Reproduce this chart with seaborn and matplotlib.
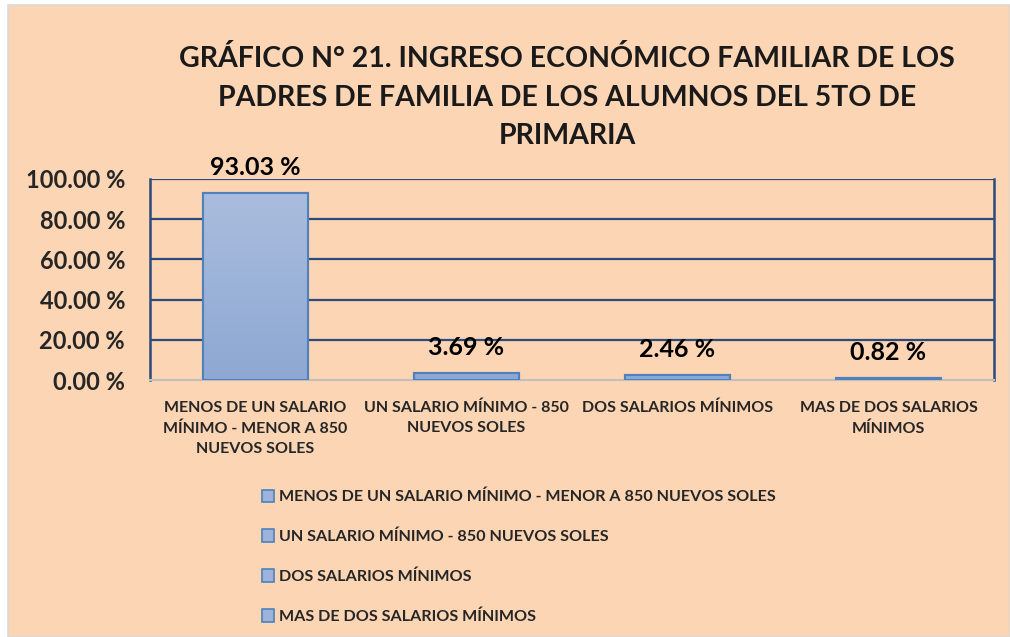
import matplotlib
matplotlib.use('Agg')
import matplotlib.pyplot as plt
import matplotlib.patches as mpatches
from matplotlib.colors import LinearSegmentedColormap
import numpy as np
import pandas as pd
import seaborn as sns

categorias = ['MENOS DE UN SALARIO MÍNIMO - MENOR A 850 NUEVOS SOLES',
              'UN SALARIO MÍNIMO - 850 NUEVOS SOLES',
              'DOS SALARIOS MÍNIMOS',
              'MAS DE DOS SALARIOS MÍNIMOS']
etiquetas_x = ['MENOS DE UN SALARIO\nMÍNIMO - MENOR A 850\nNUEVOS SOLES',
               'UN SALARIO MÍNIMO - 850\nNUEVOS SOLES',
               'DOS SALARIOS MÍNIMOS',
               'MAS DE DOS SALARIOS\nMÍNIMOS']
porcentajes = [93.03, 3.69, 2.46, 0.82]
y_ticks = [0, 20, 40, 60, 80, 100]

titulo = ('GRÁFICO N° 21. INGRESO ECONÓMICO FAMILIAR DE LOS\n'
          'PADRES DE FAMILIA DE LOS ALUMNOS DEL 5TO DE\nPRIMARIA')

sns.set_theme(style='white')
plt.rcParams['font.family'] = ['Lato', 'DejaVu Sans']
plt.rcParams['font.weight'] = 'bold'

peach = '#FCD5B4'
navy = '#2A4B7C'
bar_color = '#9DB3D9'
bar_edge = '#4F81BD'
degradado = LinearSegmentedColormap.from_list('deg', ['#8DA8D3', '#ACBEDE'])

df = pd.DataFrame({'categoria': categorias, 'valor': porcentajes})

fig = plt.figure(figsize=(10.10, 6.37), dpi=100)
fig.patch.set_facecolor('white')
fondo = mpatches.Rectangle((8 / 1010, 0), 1 - 8 / 1010, 1 - 5 / 637,
                           transform=fig.transFigure, facecolor=peach,
                           edgecolor='#D9D9D9', linewidth=1.2, zorder=-10)
fig.patches.append(fondo)

ax = fig.add_axes([150 / 1010, 1 - 380 / 637, 844 / 1010, 201 / 637])
ax.set_zorder(5)
ax.patch.set_alpha(0)

sns.barplot(data=df, x='categoria', y='valor', hue='categoria',
            palette=[bar_color] * 4, width=0.5, edgecolor=bar_edge,
            linewidth=1.5, legend=False, ax=ax, zorder=3)

# relleno con degradado vertical como en Excel
grad = np.linspace(0, 1, 256).reshape(-1, 1)
for p in list(ax.patches):
    x0, y0 = p.get_x(), p.get_y()
    w, h = p.get_width(), p.get_height()
    im = ax.imshow(grad, cmap=degradado, aspect='auto', origin='lower',
                   extent=[x0, x0 + w, 0, 100], zorder=3.5)
    im.set_clip_path(p)
    edge = mpatches.Rectangle((x0, y0), w, h, facecolor='none', edgecolor=bar_edge,
                              linewidth=1.5, zorder=4)
    ax.add_patch(edge)

ax.set_xlim(-0.5, len(categorias) - 0.5)
ax.set_ylim(0, 100)
ax.set_yticks(y_ticks)
ax.set_yticklabels(['%.2f %%' % v for v in y_ticks], fontsize=17, fontweight='bold')
ax.set_xticks(range(len(categorias)))
ax.set_xticklabels(etiquetas_x, fontsize=11.5, fontweight='bold', linespacing=1.55, va='top')
ax.tick_params(axis='x', length=0, pad=15)
ax.tick_params(axis='y', length=0, pad=18)
ax.set_xlabel('')
ax.set_ylabel('')

for v in y_ticks[1:]:
    ax.axhline(v, color=navy, linewidth=1.6, zorder=1)

for side in ['left', 'right']:
    ax.spines[side].set_color(navy)
    ax.spines[side].set_linewidth(1.8)
ax.spines['top'].set_visible(False)
ax.spines['bottom'].set_color('#BFBFBF')
ax.spines['bottom'].set_linewidth(1.5)

for i, v in enumerate(porcentajes):
    ax.annotate('%.2f %%' % v, (i, v), xytext=(0, 10), textcoords='offset points',
                ha='center', va='bottom', fontsize=18, fontweight='bold', color='black',
                annotation_clip=False, zorder=6)

fig.text(567 / 1010, 1 - 45 / 637, titulo, ha='center', va='top', fontsize=20.5,
         fontweight='bold', linespacing=1.6, color='#1a1a1a')

handles = [mpatches.Patch(facecolor=bar_color, edgecolor=bar_edge, linewidth=1.2)
           for _ in categorias]
fig.legend(handles, categorias, loc='upper left', bbox_to_anchor=(247 / 1010, 1 - 475 / 637),
           frameon=False, prop={'weight': 'bold', 'size': 11.6},
           labelspacing=1.56, handlelength=0.8, handleheight=0.8, handletextpad=0.3)

fig.savefig('out.png', dpi=100, facecolor=fig.get_facecolor())
